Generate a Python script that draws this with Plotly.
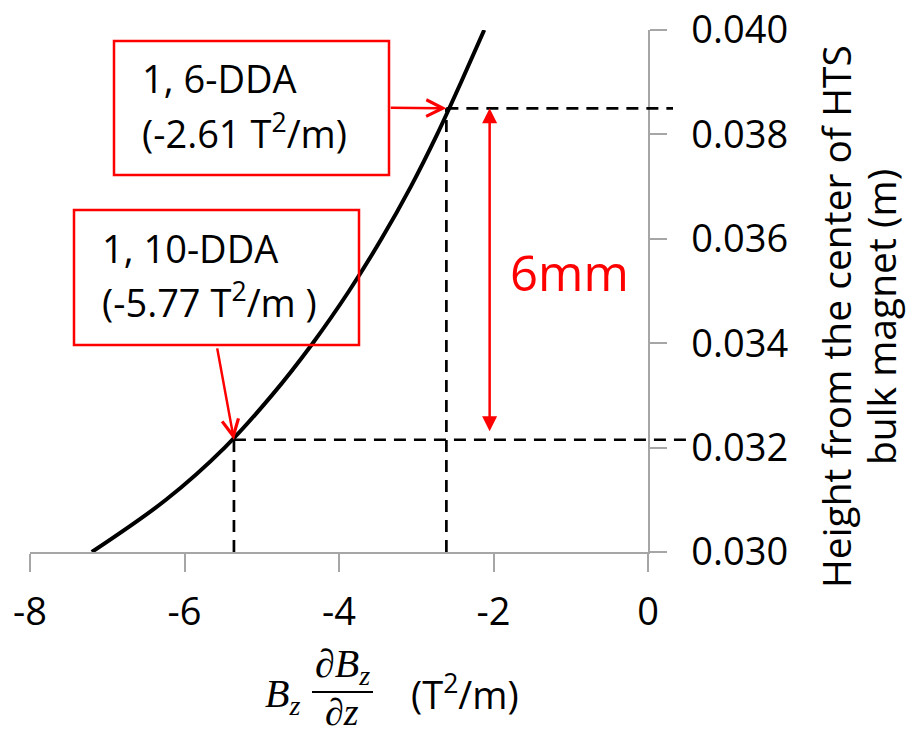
import plotly.graph_objects as go

# ---- data ----
height_m = [0.0300, 0.0310, 0.0320, 0.0330, 0.0340, 0.0350, 0.0360, 0.0370, 0.0380, 0.0390, 0.0400]
bz_grad = [-7.20, -6.24, -5.48, -4.87, -4.34, -3.87, -3.45, -3.07, -2.73, -2.42, -2.12]

mark_x = [-2.61, -5.36]          # positions of dashed guides (6-DDA, 10-DDA)
mark_y = [0.0385, 0.03215]
mark_text = [["1, 6-DDA", "(-2.61 T<sup>2</sup>/m)"], ["1, 10-DDA", "(-5.77 T<sup>2</sup>/m )"]]

x_ticks = [-8, -6, -4, -2, 0]
y_ticks = [0.030, 0.032, 0.034, 0.036, 0.038, 0.040]
y_tick_labels = ["0.030", "0.032", "0.034", "0.036", "0.038", "0.040"]

# ---- layout geometry ----
W, H = 911, 734
L, R, T, B = 30, 648, 30, 552
XR = [-8, 0]
YR = [0.030, 0.040]
FONT = "Open Sans"
RED = "#ff0000"
AX = "#a6a6a6"


def px(xp):
    return (xp - L) / (R - L)


def py(yp):
    return (B - yp) / (B - T)


def xpaper(v):
    return (v - XR[0]) / (XR[1] - XR[0])


fig = go.Figure()

# dashed vertical guides (from axis up to marked point)
for mx, my in zip(mark_x, mark_y):
    fig.add_trace(go.Scatter(x=[mx, mx], y=[YR[0], my], mode="lines",
                             line=dict(color="black", width=2.7, dash="12px,8px"),
                             hoverinfo="skip", showlegend=False))

# main curve
fig.add_trace(go.Scatter(x=bz_grad, y=height_m, mode="lines",
                         line=dict(color="black", width=4, shape="spline", smoothing=1.0),
                         showlegend=False))

shapes = []
# dashed horizontal guides extending past the axis
h_ends = [px(673), px(697)]
for mx, my, xe in zip(mark_x, mark_y, h_ends):
    shapes.append(dict(type="line", xref="paper", yref="y", x0=xpaper(mx), x1=xe, y0=my, y1=my,
                       line=dict(color="black", width=2.7, dash="12px,8px")))

# annotation boxes
boxes = [(114, 41, 389, 175), (74, 210, 359, 345)]
for (x0, y0, x1, y1) in boxes:
    shapes.append(dict(type="rect", xref="paper", yref="paper",
                       x0=px(x0), x1=px(x1), y0=py(y1), y1=py(y0),
                       line=dict(color=RED, width=2.5), fillcolor="rgba(0,0,0,0)"))

# fraction bar for x title
shapes.append(dict(type="line", xref="paper", yref="paper", x0=px(312), x1=px(373),
                   y0=py(692), y1=py(692), line=dict(color="black", width=2)))

annotations = []
# box texts
text_pos = [((140, 78), (140, 131)), ((100, 248), (100, 301))]
for lines, pos in zip(mark_text, text_pos):
    for t, (xp, yp) in zip(lines, pos):
        annotations.append(dict(text=t, xref="paper", yref="paper", x=px(xp), y=py(yp),
                                xanchor="left", yanchor="middle", showarrow=False,
                                font=dict(family=FONT, size=38, color="black")))

# arrows from boxes to points
tails = [(-3.35, 0.03851), (-5.58, 0.03393)]
for (mx, my), (tx, ty) in zip(zip(mark_x, mark_y), tails):
    annotations.append(dict(text="", x=mx, y=my, xref="x", yref="y", ax=tx, ay=ty,
                            axref="x", ayref="y", showarrow=True, arrowhead=5,
                            arrowsize=1.3, arrowwidth=2.5, arrowcolor=RED, standoff=0))

# double arrow (6mm)
annotations.append(dict(text="", x=-2.05, y=mark_y[0], xref="x", yref="y", ax=-2.05, ay=mark_y[1],
                        axref="x", ayref="y", showarrow=True, arrowhead=2, startarrowhead=2,
                        arrowside="end+start", arrowsize=1.2, startarrowsize=1.2,
                        arrowwidth=2.5, arrowcolor=RED, standoff=0, startstandoff=7))
annotations.append(dict(text="6mm", xref="paper", yref="paper", x=px(508), y=py(272),
                        xanchor="left", yanchor="middle", showarrow=False,
                        font=dict(family=FONT, size=49, color=RED)))

# y axis title (two rotated lines)
for t, xp in [("Height from the center of HTS", 835), ("bulk magnet (m)", 880)]:
    annotations.append(dict(text=t, xref="paper", yref="paper", x=px(xp), y=py(317),
                            xanchor="center", yanchor="middle", textangle=-90, showarrow=False,
                            font=dict(family=FONT, size=39, color="black")))

# x axis title (math)
MATH = "Liberation Serif"
annotations.append(dict(text="<i>B</i><sub><i>z</i></sub>", xref="paper", yref="paper",
                        x=px(263), y=py(696), xanchor="left", yanchor="middle", showarrow=False,
                        font=dict(family=MATH, size=40, color="black")))
annotations.append(dict(text="∂<i>B</i><sub><i>z</i></sub>", xref="paper", yref="paper",
                        x=px(342), y=py(666), xanchor="center", yanchor="middle", showarrow=False,
                        font=dict(family=MATH, size=40, color="black")))
annotations.append(dict(text="∂<i>z</i>", xref="paper", yref="paper",
                        x=px(342), y=py(712), xanchor="center", yanchor="middle", showarrow=False,
                        font=dict(family=MATH, size=38, color="black")))
annotations.append(dict(text="(T<sup>2</sup>/m)", xref="paper", yref="paper",
                        x=px(409), y=py(692), xanchor="left", yanchor="middle", showarrow=False,
                        font=dict(family=FONT, size=38, color="black")))

fig.update_layout(
    width=W, height=H,
    margin=dict(l=L, r=W - R, t=T, b=H - B, autoexpand=False),
    paper_bgcolor="white", plot_bgcolor="white",
    showlegend=False,
    shapes=shapes, annotations=annotations,
    xaxis=dict(range=XR, tickvals=x_ticks, ticktext=[str(v) for v in x_ticks],
               automargin=False,
               showgrid=False, zeroline=False, showline=True, linecolor=AX, linewidth=1.5,
               ticks="outside", ticklen=18, tickwidth=1.5, tickcolor=AX,
               ticklabelstandoff=8,
               tickfont=dict(family=FONT, size=38, color="black")),
    yaxis=dict(range=YR, side="right", tickvals=y_ticks, ticktext=y_tick_labels,
               automargin=False,
               showgrid=False, zeroline=False, showline=True, linecolor=AX, linewidth=1.5,
               ticks="outside", ticklen=17, tickwidth=1.5, tickcolor=AX,
               ticklabelstandoff=17,
               tickfont=dict(family=FONT, size=38, color="black")),
)

fig.write_html("out.html")
